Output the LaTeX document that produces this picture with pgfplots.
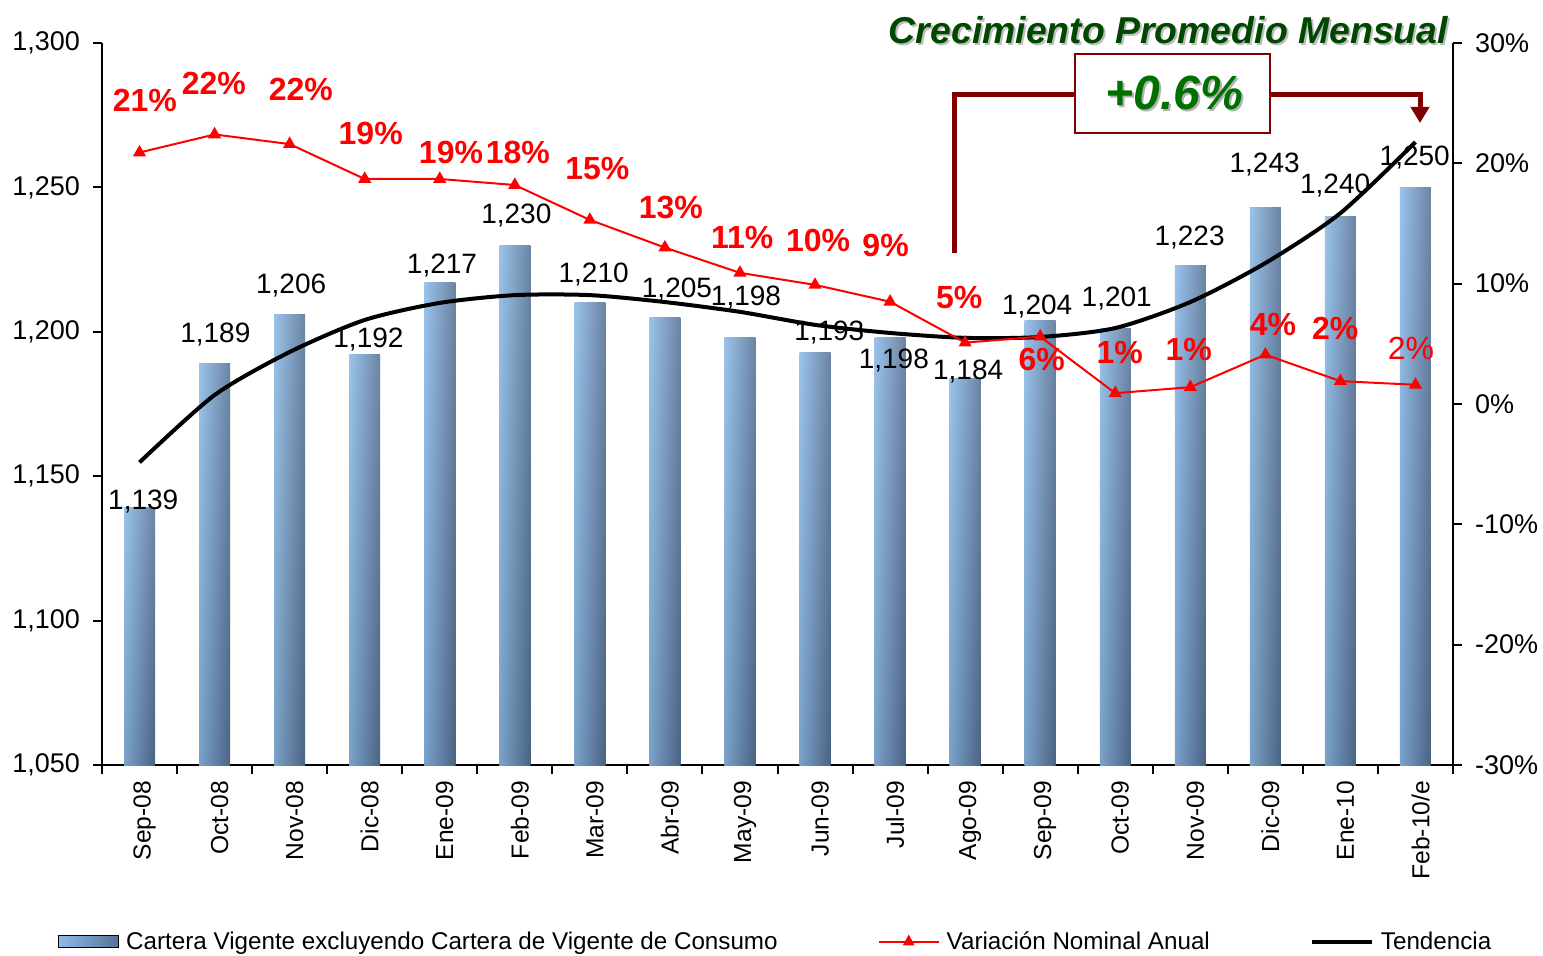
\documentclass[border=0pt]{standalone}
\usepackage{pgfplots}
\pgfplotsset{compat=1.18}
\usepackage{fontspec}
\setmainfont{Liberation Sans}
\usetikzlibrary{arrows.meta}
\definecolor{barL}{RGB}{140,186,232}
\definecolor{barR}{RGB}{86,114,150}
\definecolor{dred}{RGB}{128,0,0}
\definecolor{dgreen}{RGB}{0,72,0}
\definecolor{mgreen}{RGB}{0,112,0}
\definecolor{pred}{RGB}{255,0,0}
\newcommand{\tfont}{\fontsize{12.3}{14}\selectfont}
\newcommand{\lfont}{\fontsize{12.1}{14}\selectfont}
\newcommand{\yfont}{\fontsize{13.5}{15}\selectfont}
\newcommand{\bfont}{\fontsize{14}{16}\selectfont}
\newcommand{\rfont}{\fontsize{16}{18}\selectfont\bfseries}
\pgfplotsset{
  common/.style={
    at={(51pt,95pt)}, anchor=south west, scale only axis,
    width=675.5pt, height=361pt,
    xmin=-0.5, xmax=17.5,
    clip mode=individual,
    axis line style={line width=1pt, black},
    tick style={line width=1pt, black},
    tick align=outside,
    major tick length=4.5pt, minor tick length=4.5pt,
    x tick label style={font=\tfont},
    y tick label style={font=\yfont},
  },
  mybar/.style={ybar, bar width=15.5pt, draw=none, left color=barL, right color=barR, forget plot,
    postaction={top color=white, bottom color=black, opacity=0.13}},
}
\begin{document}
\begin{tikzpicture}
\useasboundingbox (0,0) rectangle (771.5pt,477.5pt);
\begin{axis}[common,
  ymin=1050, ymax=1300,
  axis x line*=bottom, axis y line*=left,
  xtick={0,...,17},
  xticklabels={Sep-08,Oct-08,Nov-08,Dic-08,Ene-09,Feb-09,Mar-09,Abr-09,May-09,Jun-09,Jul-09,Ago-09,Sep-09,Oct-09,Nov-09,Dic-09,Ene-10,Feb-10/e},
  major x tick style={draw=none},
  minor xtick={-0.5,0.5,...,17.5},
  x tick label style={rotate=90, anchor=east, yshift=-2.5pt},
  ytick={1050,1100,...,1300},
  yticklabels={{1,050},{1,100},{1,150},{1,200},{1,250},{1,300}},
  y tick label style={xshift=-3pt},
]
\addplot[mybar] coordinates {(0,1139)};
\addplot[mybar] coordinates {(1,1189)};
\addplot[mybar] coordinates {(2,1206)};
\addplot[mybar] coordinates {(3,1192)};
\addplot[mybar] coordinates {(4,1217)};
\addplot[mybar] coordinates {(5,1230)};
\addplot[mybar] coordinates {(6,1210)};
\addplot[mybar] coordinates {(7,1205)};
\addplot[mybar] coordinates {(8,1198)};
\addplot[mybar] coordinates {(9,1193)};
\addplot[mybar] coordinates {(10,1198)};
\addplot[mybar] coordinates {(11,1184)};
\addplot[mybar] coordinates {(12,1204)};
\addplot[mybar] coordinates {(13,1201)};
\addplot[mybar] coordinates {(14,1223)};
\addplot[mybar] coordinates {(15,1243)};
\addplot[mybar] coordinates {(16,1240)};
\addplot[mybar] coordinates {(17,1250)};
\addplot[black, line width=2pt, smooth, tension=0.45] coordinates {
(0,1154.8) (1,1178.1) (2,1193.0) (3,1204.1) (4,1210.0) (5,1212.7) (6,1212.7) (7,1210.3)
(8,1206.9) (9,1202.4) (10,1199.6) (11,1197.9) (12,1198.2) (13,1201.3) (14,1210.3)
(15,1223.8) (16,1241.1) (17,1265.7)};
\begin{scope}[every node/.style={font=\bfont, text=black}]
\node at (axis cs:0.05,1141.1) {1,139};
\node at (axis cs:1.01,1198.9) {1,189};
\node at (axis cs:2.02,1215.9) {1,206};
\node at (axis cs:3.05,1197.5) {1,192};
\node at (axis cs:4.03,1223.1) {1,217};
\node at (axis cs:5.02,1240.1) {1,230};
\node at (axis cs:6.05,1220.0) {1,210};
\node at (axis cs:7.16,1214.8) {1,205};
\node at (axis cs:8.08,1211.7) {1,198};
\node at (axis cs:9.19,1199.6) {1,193};
\node at (axis cs:10.05,1189.9) {1,198};
\node at (axis cs:11.04,1186.1) {1,184};
\node at (axis cs:11.96,1208.6) {1,204};
\node at (axis cs:13.02,1211.4) {1,201};
\node at (axis cs:13.99,1232.8) {1,223};
\node at (axis cs:14.99,1257.8) {1,243};
\node at (axis cs:15.93,1250.8) {1,240};
\node at (axis cs:16.99,1260.5) {1,250};
\end{scope}
\end{axis}

\begin{axis}[common,
  ymin=-30, ymax=30,
  axis x line=none, axis y line*=right,
  ytick={-30,-20,...,30},
  yticklabels={-30\%,-20\%,-10\%,0\%,10\%,20\%,30\%},
  y tick label style={xshift=3pt},
  legend columns=3,
  legend style={draw=none, fill=none, at={(-0.0326,-0.245)}, anchor=west,
    font=\lfont, inner sep=0pt,
    /tikz/every even column/.append style={column sep=48pt},
    /tikz/every odd column/.append style={column sep=1.5pt}},
]
\addlegendimage{legend image code/.code={\fill[left color=barL, right color=barR] (0pt,-3pt) rectangle (30pt,3pt);}}
\addlegendentry{Cartera Vigente excluyendo Cartera de Vigente de Consumo}
\addlegendimage{legend image code/.code={\draw[pred, line width=1pt] (0pt,0pt) -- (30pt,0pt); \fill[pred] (15pt,3.2pt) -- (17.6pt,-1.5pt) -- (12.4pt,-1.5pt) -- cycle;}}
\addlegendentry{Variación Nominal Anual}
\addlegendimage{legend image code/.code={\draw[black, line width=2pt] (0pt,0pt) -- (30pt,0pt);}}
\addlegendentry{Tendencia}
\addplot[pred, line width=1pt, mark=triangle*, mark size=2.8pt, mark options={solid, fill=pred}, forget plot] coordinates {
(0,20.9) (1,22.4) (2,21.6) (3,18.7) (4,18.7) (5,18.2) (6,15.3) (7,13.0) (8,10.9)
(9,9.9) (10,8.5) (11,5.1) (12,5.6) (13,0.9) (14,1.4) (15,4.1) (16,1.9) (17,1.6)};
\begin{scope}[every node/.style={font=\rfont, text=pred}]
\node at (axis cs:0.07,25.26) {21\%};
\node at (axis cs:0.99,26.68) {22\%};
\node at (axis cs:2.15,26.10) {22\%};
\node at (axis cs:3.08,22.52) {19\%};
\node at (axis cs:4.15,20.94) {19\%};
\node at (axis cs:5.04,20.94) {18\%};
\node at (axis cs:6.10,19.53) {15\%};
\node at (axis cs:7.08,16.29) {13\%};
\node at (axis cs:8.03,13.80) {11\%};
\node at (axis cs:9.04,13.63) {10\%};
\node at (axis cs:9.94,13.21) {9\%};
\node at (axis cs:10.92,8.81) {5\%};
\node at (axis cs:12.02,3.74) {6\%};
\node at (axis cs:13.06,4.32) {1\%};
\node at (axis cs:13.98,4.49) {1\%};
\node at (axis cs:15.10,6.57) {4\%};
\node at (axis cs:15.93,6.32) {2\%};
\node[font=\fontsize{16}{18}\selectfont] at (axis cs:16.94,4.65) {2\%};
\end{scope}
\end{axis}

\begin{scope}[shift={(0pt,477.5pt)}, x=0.5pt, y=-0.5pt]
\draw[dred, line width=2.5pt] (954,253) -- (954,95) -- (1075,95);
\draw[dred, line width=2.5pt, -{Triangle[width=9pt, length=8pt]}] (1270,95) -- (1420,95) -- (1420,123);
\draw[dred, line width=1pt, fill=white] (1075,54) rectangle (1270,133);
\node[font=\fontsize{24}{28}\selectfont\bfseries\itshape, text=black!30] at (1176,95) {+0.6\%};
\node[font=\fontsize{24}{28}\selectfont\bfseries\itshape, text=mgreen] at (1174,93) {+0.6\%};
\node[font=\fontsize{18.7}{22}\selectfont\bfseries\itshape, text=black!25, anchor=east] at (1457,32) {Crecimiento Promedio Mensual};
\node[font=\fontsize{18.7}{22}\selectfont\bfseries\itshape, text=dgreen, anchor=east] at (1455,30) {Crecimiento Promedio Mensual};
\end{scope}
\end{tikzpicture}
\end{document}
